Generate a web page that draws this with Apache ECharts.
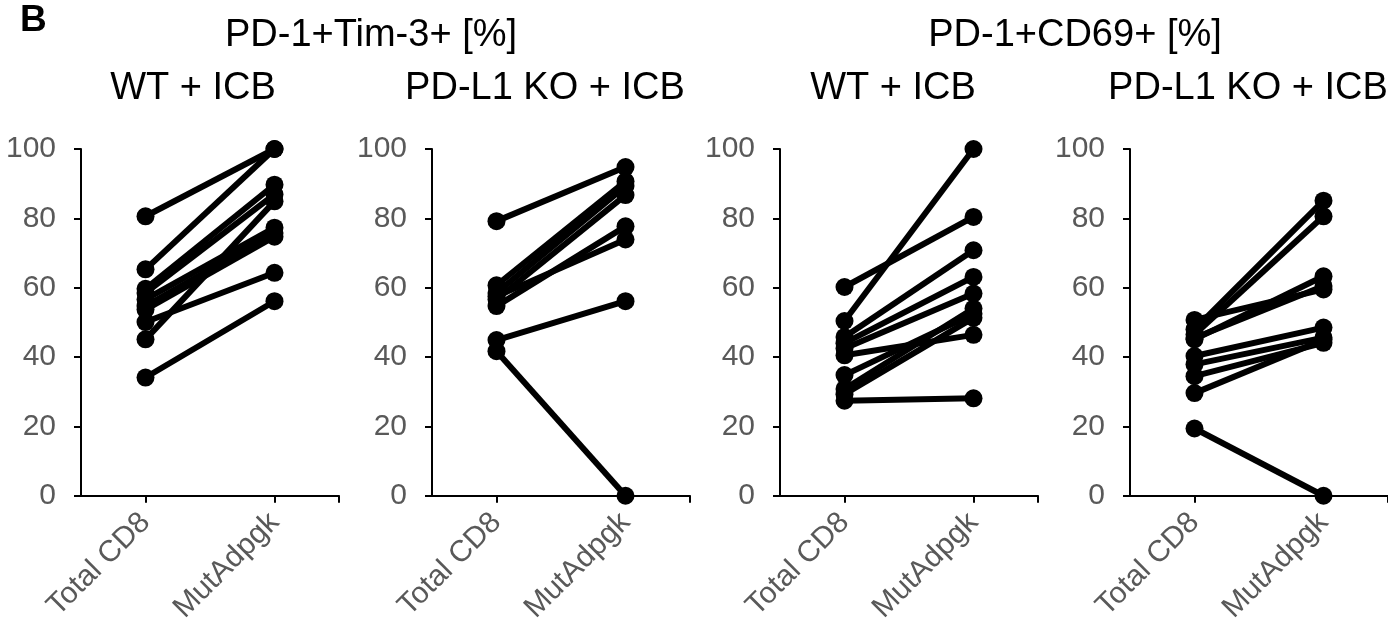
<!DOCTYPE html>
<html>
<head>
<meta charset="utf-8">
<script src="https://cdn.jsdelivr.net/npm/echarts@6/dist/echarts.min.js"></script>
<style>
  html, body { margin: 0; padding: 0; background: #fff; }
  #chart { width: 1388px; height: 626px; }
</style>
</head>
<body>
<div id="chart"></div>
<script>
// x categories, placed at 1 and 3 on a 0..4 value axis
const categories = ['Total CD8', 'MutAdpgk'];
const yTicks = [0, 20, 40, 60, 80, 100];

// PD-1+Tim-3+ [%]
const tim3WtTotal = [80.6, 65.3, 59.7, 58.5, 56.6, 54.7, 53.7, 50.1, 45.1, 34.1];
const tim3WtMut   = [100, 100, 89.7, 86.9, 77.3, 75.8, 74.7, 64.3, 84.9, 56.1];
const tim3KoTotal = [79.2, 60.7, 58.5, 56.6, 54.7, 57.5, 44.9, 41.7];
const tim3KoMut   = [94.8, 90.7, 89.3, 86.7, 77.7, 73.9, 56.1, 0];

// PD-1+CD69+ [%]
const cd69WtTotal = [60.2, 50.4, 45.8, 44.0, 42.5, 40.5, 34.8, 30.8, 29.3, 27.4];
const cd69WtMut   = [80.4, 100, 70.8, 63.1, 58.3, 46.4, 52.5, 54.0, 51.3, 28.1];
const cd69KoTotal = [48.0, 46.5, 45.1, 50.7, 45.5, 40.3, 37.9, 34.5, 29.6, 19.4];
const cd69KoMut   = [85.1, 80.6, 63.3, 59.5, 60.5, 48.5, 45.6, 44.1, 45.0, 0];

const panels = [
  { title: 'WT + ICB',       total: tim3WtTotal, mut: tim3WtMut, left: 81 },
  { title: 'PD-L1 KO + ICB', total: tim3KoTotal, mut: tim3KoMut, left: 432 },
  { title: 'WT + ICB',       total: cd69WtTotal, mut: cd69WtMut, left: 780 },
  { title: 'PD-L1 KO + ICB', total: cd69KoTotal, mut: cd69KoMut, left: 1130 }
];

const FONT = '"Liberation Sans", Arial, sans-serif';
const GRAY = '#595959';
const PANEL_W = 258;

const chart = echarts.init(document.getElementById('chart'), null, { renderer: 'canvas' });

let grid = [], xAxis = [], yAxis = [], series = [];
panels.forEach((p, i) => {
  grid.push({ left: p.left, top: 149, width: PANEL_W, height: 348 });
  xAxis.push({
    type: 'value', gridIndex: i, min: 0, max: 4,
    splitLine: { show: false },
    axisLine: { lineStyle: { color: '#000', width: 2 } },
    axisTick: { customValues: [1, 3, 4], length: 7, lineStyle: { color: '#000', width: 2 } },
    axisLabel: {
      customValues: [1, 3], rotate: 45, margin: 22,
      fontSize: 30, fontFamily: FONT, color: GRAY,
      formatter: v => categories[(v - 1) / 2]
    }
  });
  yAxis.push({
    type: 'value', gridIndex: i, min: yTicks[0], max: yTicks[yTicks.length - 1], interval: 20,
    splitLine: { show: false },
    axisLine: { show: true, lineStyle: { color: '#000', width: 2 } },
    axisTick: { show: true, length: 7, lineStyle: { color: '#000', width: 2 } },
    axisLabel: { fontSize: 30, fontFamily: FONT, color: GRAY, margin: 25 }
  });
  p.total.forEach((t, k) => {
    series.push({
      type: 'line', xAxisIndex: i, yAxisIndex: i,
      data: [[1, t], [3, p.mut[k]]],
      symbol: 'circle', symbolSize: 18,
      lineStyle: { color: '#000', width: 6 },
      itemStyle: { color: '#000' },
      silent: true
    });
  });
});

const graphic = [
  { type: 'text', x: 20, y: 2, style: { text: 'B', font: 'bold 37px ' + FONT, fill: '#000' } },
  { type: 'text', x: 371, y: 36, style: { text: 'PD-1+Tim-3+ [%]', font: '38px ' + FONT, fill: '#000', align: 'center', verticalAlign: 'middle' } },
  { type: 'text', x: 1075, y: 36, style: { text: 'PD-1+CD69+ [%]', font: '38px ' + FONT, fill: '#000', align: 'center', verticalAlign: 'middle' } }
];
const subCenters = [193, 545, 893, 1248];
panels.forEach((p, i) => {
  graphic.push({ type: 'text', x: subCenters[i], y: 89,
    style: { text: p.title, font: '38px ' + FONT, fill: '#000', align: 'center', verticalAlign: 'middle' } });
});

chart.setOption({
  animation: false,
  backgroundColor: '#fff',
  grid, xAxis, yAxis, series, graphic
});
</script>
</body>
</html>
